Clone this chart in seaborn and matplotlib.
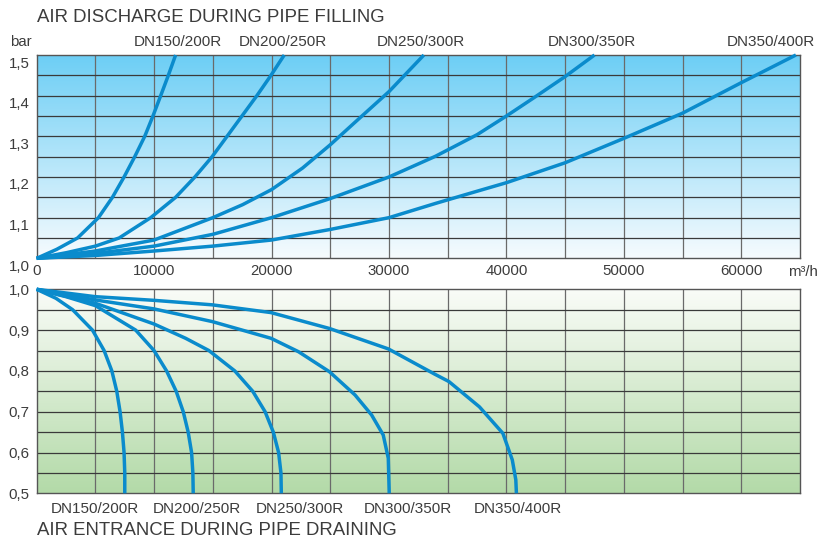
import matplotlib
matplotlib.use("Agg")
import matplotlib.pyplot as plt
import matplotlib.transforms as mtransforms
from matplotlib.colors import LinearSegmentedColormap
import numpy as np
import pandas as pd
import seaborn as sns

# --- data ------------------------------------------------------------------
series = ["DN150/200R", "DN200/250R", "DN250/300R", "DN300/350R", "DN350/400R"]

# air discharge during pipe filling: flow (m3/h) -> pressure (bar)
fill_x = [
    [0, 1700, 3480, 5260, 6450, 7440, 8350, 9200, 9900, 10560, 11210, 11830],
    [0, 2550, 5000, 7020, 9710, 11830, 13470, 14940, 16210, 17480, 18750,
     19950, 21080],
    [0, 5000, 10000, 15000, 17540, 20000, 22640, 24990, 27160, 30000, 32970],
    [0, 5000, 10000, 15000, 20000, 25000, 30000, 33960, 37500, 40000, 42500,
     45000, 47500],
    [0, 5000, 10000, 15000, 20000, 25000, 30000, 33960, 37500, 40000, 45000,
     50000, 55000, 60000, 64650],
]
fill_p = [
    [1.0, 1.022, 1.05, 1.1, 1.15, 1.2, 1.25, 1.3, 1.35, 1.4, 1.45, 1.5],
    [1.0, 1.014, 1.03, 1.05, 1.1, 1.15, 1.2, 1.25, 1.3, 1.35, 1.4, 1.45, 1.5],
    [1.0, 1.018, 1.045, 1.1, 1.132, 1.169, 1.222, 1.279, 1.336, 1.41, 1.5],
    [1.0, 1.012, 1.03, 1.059, 1.1, 1.147, 1.2, 1.251, 1.304, 1.35, 1.398,
     1.447, 1.5],
    [1.0, 1.007, 1.018, 1.03, 1.045, 1.071, 1.1, 1.135, 1.165, 1.186, 1.235,
     1.295, 1.357, 1.432, 1.5],
]

# air entrance during pipe draining: flow (m3/h) -> pressure (bar)
drain_x = [
    [0, 1640, 3060, 4750, 5740, 6400, 6820, 7100, 7300, 7440, 7500, 7500],
    [0, 2490, 5000, 8430, 9990, 11060, 11880, 12480, 12900, 13190, 13300,
     13330],
    [0, 4980, 9990, 12680, 14660, 16870, 18400, 19450, 20150, 20600, 20800,
     20830],
    [0, 4980, 9990, 14940, 19950, 22300, 24930, 27110, 28520, 29510, 29940,
     30020],
    [0, 4980, 9990, 14940, 19950, 24930, 29940, 33900, 35100, 37700, 39700,
     40500, 40800, 40850],
]
drain_p = [
    [1.0, 0.978, 0.95, 0.9, 0.85, 0.8, 0.75, 0.7, 0.65, 0.6, 0.55, 0.5],
    [1.0, 0.982, 0.96, 0.9, 0.85, 0.8, 0.75, 0.7, 0.65, 0.6, 0.55, 0.5],
    [1.0, 0.966, 0.915, 0.88, 0.85, 0.8, 0.75, 0.7, 0.65, 0.6, 0.55, 0.5],
    [1.0, 0.974, 0.952, 0.921, 0.88, 0.847, 0.798, 0.741, 0.692, 0.643,
     0.586, 0.5],
    [1.0, 0.982, 0.973, 0.962, 0.943, 0.904, 0.854, 0.792, 0.774, 0.712,
     0.647, 0.582, 0.533, 0.5],
]

fill_ticks = [1.0, 1.1, 1.2, 1.3, 1.4, 1.5]
drain_ticks = [0.5, 0.6, 0.7, 0.8, 0.9, 1.0]
x_ticks = [0, 10000, 20000, 30000, 40000, 50000, 60000]

# label anchor positions (data x) for the curve names
fill_label_x = [12000, 21000, 32700, 47300, 62500]
drain_label_x = [4960, 13640, 22390, 31580, 41010]


def long_frame(xs, ps):
    rows = []
    for name, x, p in zip(series, xs, ps):
        for i, (a, b) in enumerate(zip(x, p)):
            rows.append({"series": name, "order": i, "flow": a, "bar": b})
    return pd.DataFrame(rows)


fill_df = long_frame(fill_x, fill_p)
drain_df = long_frame(drain_x, drain_p)

sns.set_theme(style="white")
plt.rcParams["font.family"] = ["Liberation Sans", "DejaVu Sans"]
TEXT = "#3c3c3c"
CURVE = "#0a8bcc"

fig = plt.figure(figsize=(8.19, 5.42), dpi=100)
ax1 = fig.add_axes([0.0448, 0.5234, 0.9320, 0.3751])
ax2 = fig.add_axes([0.0448, 0.0898, 0.9320, 0.3764])

blue = LinearSegmentedColormap.from_list("b", ["#f6fbfe", "#6ccef5"])
green = LinearSegmentedColormap.from_list("g", ["#b3daa8", "#fafcf8"])
grad = np.linspace(0, 1, 256).reshape(-1, 1)

for ax, cmap, lo, hi in [(ax1, blue, 1.0, 1.5), (ax2, green, 0.5, 1.0)]:
    ax.imshow(grad, aspect="auto", cmap=cmap, origin="lower",
              extent=[0, 65000, lo, hi], zorder=0)
    ax.set_xlim(0, 65000)
    ax.set_ylim(lo, hi)
    ax.grid(False)
    for v in np.arange(5000, 65000, 5000):
        ax.axvline(v, color="#6a6a6a", lw=0.9, zorder=1)
    for h in np.arange(lo + 0.05, hi - 0.001, 0.05):
        ax.axhline(h, color="#3a3a3a", lw=0.9, zorder=1)
    for s in ax.spines.values():
        s.set_color("#555555")
        s.set_linewidth(1.0)
    ax.tick_params(length=0, labelsize=10.8, colors=TEXT, pad=5)

sns.lineplot(data=fill_df, x="flow", y="bar", units="series", estimator=None,
             sort=False, color=CURVE, lw=2.5, ax=ax1, zorder=3)
sns.lineplot(data=drain_df, x="flow", y="bar", units="series", estimator=None,
             sort=False, color=CURVE, lw=2.5, ax=ax2, zorder=3)

for ax in (ax1, ax2):
    ax.set_xlabel("")
    ax.set_ylabel("")
    for ln in ax.lines:
        if ln.get_zorder() == 3:
            ln.set_clip_on(False)
            ln.set_solid_capstyle("butt")
            ln.set_solid_joinstyle("round")

# tick labels
ax1.set_yticks(fill_ticks)
ax1.set_yticklabels([f"{v:.1f}".replace(".", ",") for v in fill_ticks])
off = mtransforms.ScaledTranslation(0, -7 / 100, fig.dpi_scale_trans)
for lab in ax1.get_yticklabels():
    lab.set_transform(lab.get_transform() + off)
ax1.set_xticks(x_ticks)
ax1.set_xticklabels([str(v) for v in x_ticks])
ax1.tick_params(axis="x", pad=4)

ax2.set_yticks(drain_ticks)
ax2.set_yticklabels([f"{v:.1f}".replace(".", ",") for v in drain_ticks])
ax2.set_xticks([])

# titles / units
fig.text(0.0448, 0.968, "AIR DISCHARGE DURING PIPE FILLING", fontsize=13.4,
         color=TEXT, ha="left", va="center")
fig.text(0.0448, 0.022, "AIR ENTRANCE DURING PIPE DRAINING", fontsize=13.4,
         color=TEXT, ha="left", va="center")
fig.text(0.0125, 0.922, "bar", fontsize=10.8, color=TEXT, ha="left", va="center")
fig.text(0.962, 0.498, "m³/h", fontsize=10.8, color=TEXT, ha="left", va="center")

for name, lx in zip(series, fill_label_x):
    ax1.text(lx, 1.028, name, transform=ax1.get_xaxis_transform(),
             fontsize=11, color=TEXT, ha="center", va="bottom")
for name, lx in zip(series, drain_label_x):
    ax2.text(lx, -0.075, name, transform=ax2.get_xaxis_transform(),
             fontsize=11, color=TEXT, ha="center", va="center")

fig.savefig("out.png", dpi=100)
